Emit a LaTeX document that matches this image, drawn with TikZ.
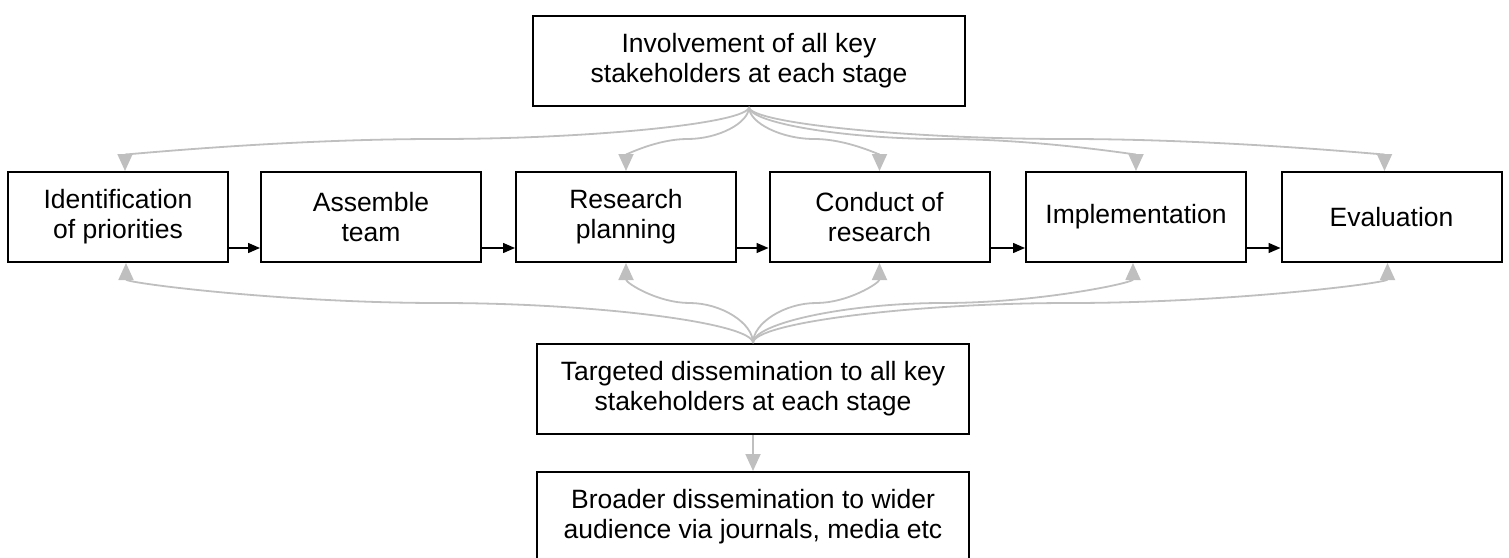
\documentclass[tikz,border=0pt]{standalone}
\usepackage{fontspec}
\setmainfont{Liberation Sans}
\usepackage{tikz}
\usetikzlibrary{arrows.meta}
\usetikzlibrary{calc}
\usepackage{xcolor}
\definecolor{linkgray}{RGB}{191,191,191}

\tikzset{
	stagebox/.style={draw, line width=1pt, align=center, inner sep=2pt,
		minimum width=110pt, minimum height=45pt,
		font=\fontsize{13.25}{15}\selectfont},
	widebox/.style={stagebox, minimum width=216pt},
	flow/.style={-{Triangle[length=6pt,width=5pt]}, line width=0.7pt},
	link/.style={-{Triangle[length=8.5pt,width=7.5pt]}, draw=linkgray,
		line width=0.9pt},
	elbow/.style={to path={let \p1=(\tikztostart), \p2=(\tikztotarget) in
		.. controls (\x1,{0.75*\y1+0.25*\y2}) and ({0.75*\x1+0.25*\x2},{0.5*\y1+0.5*\y2})
		.. ({0.5*\x1+0.5*\x2},{0.5*\y1+0.5*\y2})
		.. controls ({0.25*\x1+0.75*\x2},{0.5*\y1+0.5*\y2}) and (\x2,{0.25*\y1+0.75*\y2})
		.. (\x2,\y2)}}
}

\begin{document}
\begin{tikzpicture}[x=0.5pt,y=-0.5pt]
		\useasboundingbox (0,0) rectangle (1509,557);
	
		\node[widebox] (top) at (749,61) {Involvement of all key\\stakeholders at each stage};
	
		\node[stagebox] (b1) at (118,217) {Identification\\of priorities};
		\node[stagebox] (b2) at (371,217) {Assemble\\team};
		\node[stagebox] (b3) at (626,217) {Research\\planning};
		\node[stagebox] (b4) at (879.5,217) {Conduct of\\research};
		\node[stagebox] (b5) at (1136,217) {Implementation};
		\node[stagebox] (b6) at (1391.5,217) {Evaluation};
	
		\node[widebox] (tgd) at (753,389) {Targeted dissemination to all key\\stakeholders at each stage};
		\node[widebox] (brd) at (753,517) {Broader dissemination to wider\\audience via journals, media etc};
	
		\draw[flow] ([yshift=-15.5pt]b1.east) -- ([yshift=-15.5pt]b2.west);
		\draw[flow] ([yshift=-15.5pt]b2.east) -- ([yshift=-15.5pt]b3.west);
		\draw[flow] ([yshift=-15.5pt]b3.east) -- ([yshift=-15.5pt]b4.west);
		\draw[flow] ([yshift=-15.5pt]b4.east) -- ([yshift=-15.5pt]b5.west);
		\draw[flow] ([yshift=-15.5pt]b5.east) -- ([yshift=-15.5pt]b6.west);
	
		\draw[link] (top.south) to[elbow] ([xshift=3.5pt]b1.north);
		\draw[link] (top.south) to[elbow] (b3.north);
		\draw[link] (top.south) to[elbow] (b4.north);
		\draw[link] (top.south) to[elbow] (b5.north);
		\draw[link] (top.south) to[elbow] ([xshift=-3.5pt]b6.north);
	
		\draw[link] (tgd.north) to[elbow] ([xshift=4pt]b1.south);
		\draw[link] (tgd.north) to[elbow] (b3.south);
		\draw[link] (tgd.north) to[elbow] (b4.south);
		\draw[link] (tgd.north) to[elbow] ([xshift=-1.5pt]b5.south);
		\draw[link] (tgd.north) to[elbow] ([xshift=-2pt]b6.south);
	
		\draw[link] (tgd.south) -- (brd.north);
	\end{tikzpicture}
\end{document}
